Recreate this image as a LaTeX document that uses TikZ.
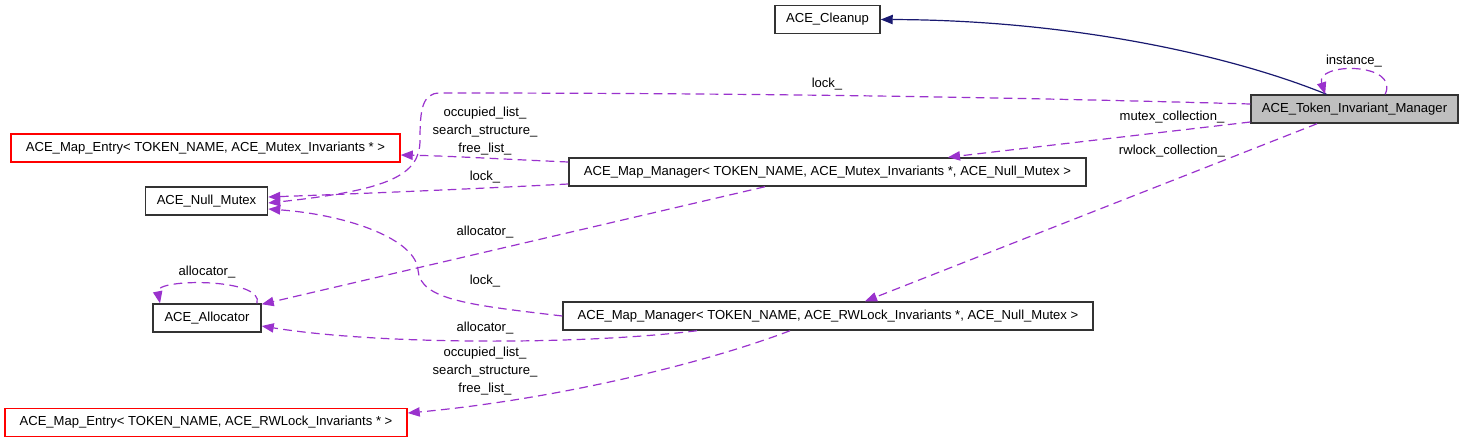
\documentclass[tikz,border=0pt]{standalone}
\usepackage{fontspec}
\setmainfont{Liberation Sans}
\usetikzlibrary{arrows.meta}
\definecolor{uso}{HTML}{9A32CD}
\definecolor{herencia}{HTML}{191970}
\tikzset{
  clase/.style={draw=black!80, line width=1.1pt, fill=white, minimum height=21pt,
    inner sep=0pt, font=\fontsize{9.8}{13.5}\selectfont},
  clase roja/.style={clase, draw=red},
  clase actual/.style={clase, fill=gray!50},
  miembro/.style={draw=uso, line width=0.9pt, dash pattern=on 6.5pt off 4pt,
    -{Triangle[length=9pt,width=7pt]}},
  base/.style={draw=herencia, line width=0.9pt, -{Triangle[length=9pt,width=7pt]}},
  etiqueta/.style={inner sep=0pt, align=center, font=\fontsize{9.8}{13.5}\selectfont}
}
\begin{document}
\begin{tikzpicture}[x=0.75pt, y=-0.75pt]
    \useasboundingbox (0,0) rectangle (1464,443);

    % Clases
    \node[clase, minimum width=78.75pt] (cleanup) at (827.5,19.5) {ACE\_Cleanup};
    \node[clase actual, minimum width=155.25pt] (tim) at (1354.5,109) {ACE\_Token\_Invariant\_Manager};
    \node[clase roja, minimum width=291.75pt] (entryMutex) at (205.5,148) {ACE\_Map\_Entry< TOKEN\_NAME, ACE\_Mutex\_Invariants * >};
    \node[clase, minimum width=91.5pt] (nullMutex) at (206.5,201) {ACE\_Null\_Mutex};
    \node[clase, minimum width=387.75pt] (mgrMutex) at (827.5,172) {ACE\_Map\_Manager< TOKEN\_NAME, ACE\_Mutex\_Invariants *, ACE\_Null\_Mutex >};
    \node[clase, minimum width=81pt] (alloc) at (207,318) {ACE\_Allocator};
    \node[clase, minimum width=397.5pt] (mgrRW) at (828,316) {ACE\_Map\_Manager< TOKEN\_NAME, ACE\_RWLock\_Invariants *, ACE\_Null\_Mutex >};
    \node[clase roja, minimum width=301.5pt] (entryRW) at (206,422.5) {ACE\_Map\_Entry< TOKEN\_NAME, ACE\_RWLock\_Invariants * >};

    % Herencia
    \draw[base] ([xshift=-21pt]tim.north) .. controls (1230,55) and (1070,20) .. (cleanup.east);

    % Miembros de ACE_Token_Invariant_Manager
    \draw[miembro] ([xshift=23pt]tim.north) .. controls (1400,62) and (1315,62) .. ([xshift=-22pt]tim.north);
    \draw[miembro] ([yshift=3.75pt]tim.west) .. controls (1000,97) and (750,93) .. (440,93)
        .. controls (422,93) and (420,110) .. (420,140)
        .. controls (420,175) and (390,190) .. ([yshift=-1.5pt]nullMutex.east);
    \draw[miembro] ([yshift=-9.75pt]tim.west) -- ([xshift=90.4pt]mgrMutex.north);
    \draw[miembro] ([xshift=-28.1pt]tim.south) -- ([xshift=27.75pt]mgrRW.north);

    % Miembros de los Map_Manager
    \draw[miembro] ([yshift=7.5pt]mgrMutex.west) .. controls (500,159) and (450,156) .. ([yshift=-5.25pt]entryMutex.east);
    \draw[miembro] ([yshift=-9pt]mgrMutex.west) .. controls (450,190) and (350,194) .. ([yshift=3pt]nullMutex.east);
    \draw[miembro] ([xshift=-46.9pt]mgrMutex.south) -- ([yshift=-0.75pt]alloc.north east);
    \draw[miembro] (mgrRW.west) .. controls (470,305) and (420,300) .. (418,270)
        .. controls (416,240) and (350,215) .. ([yshift=-6pt]nullMutex.east);
    \draw[miembro] ([xshift=-98.25pt]mgrRW.south) .. controls (580,345) and (380,345) .. ([yshift=-6pt]alloc.east);
    \draw[miembro] ([xshift=-28.5pt]mgrRW.south) .. controls (700,365) and (550,400) .. ([yshift=7.1pt]entryRW.east);
    \draw[miembro] ([xshift=37.5pt]alloc.north) .. controls (265,278) and (155,278) .. ([xshift=-35.25pt]alloc.north);

    % Etiquetas
    \node[etiqueta] (eInstance) at (1354,61) {instance\_};
    \node[etiqueta] (eLockTim) at (827,84) {lock\_};
    \node[etiqueta] (eMutexCol) at (1172,117) {mutex\_collection\_};
    \node[etiqueta] (eRwlockCol) at (1172,151) {rwlock\_collection\_};
    \node[etiqueta] (eListasMutex) at (485,131) {occupied\_list\_\\search\_structure\_\\free\_list\_};
    \node[etiqueta] (eLockMutex) at (485,177) {lock\_};
    \node[etiqueta] (eAllocMutex) at (485,232) {allocator\_};
    \node[etiqueta] (eLockRW) at (485,281) {lock\_};
    \node[etiqueta] (eAllocRW) at (485,328) {allocator\_};
    \node[etiqueta] (eListasRW) at (485,371) {occupied\_list\_\\search\_structure\_\\free\_list\_};
    \node[etiqueta] (eAllocSelf) at (207,272) {allocator\_};
\end{tikzpicture}
\end{document}
